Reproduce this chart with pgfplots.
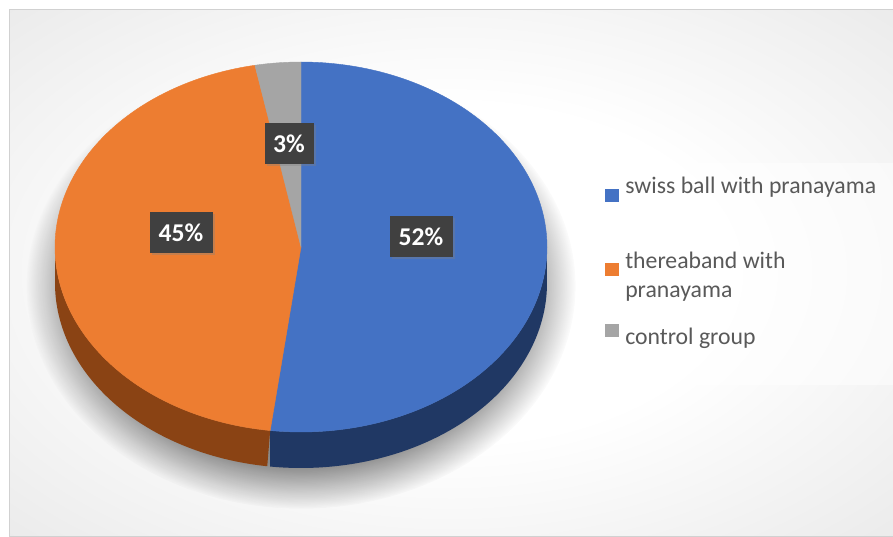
\documentclass[border=0pt]{standalone}
\usepackage{fontspec}
\setmainfont{Carlito}
\usepackage{pgfplots}
\pgfplotsset{compat=1.18}
\usepackage{pgfplotstable}
\usetikzlibrary{fadings,shadows}
\definecolor{cblue}{HTML}{4472C4}
\definecolor{corange}{HTML}{ED7D31}
\definecolor{cgray}{HTML}{A5A5A5}
\definecolor{dblue}{HTML}{203864}
\definecolor{dorange}{HTML}{8A4314}
\definecolor{legtext}{HTML}{595959}
\definecolor{labfill}{HTML}{404040}
\pgfdeclareradialshading{bgshade}{\pgfpoint{0bp}{0bp}}{color(0bp)=(white); color(16bp)=(white); color(71bp)=(black!22)}

\pgfplotstableread{
label value
swiss 52
thera 45
control 3
}\piedata

\begin{document}%
\begin{tikzpicture}
\pgfplotstablegetelem{0}{value}\of\piedata \let\va\pgfplotsretval
\pgfplotstablegetelem{1}{value}\of\piedata \let\vb\pgfplotsretval
\pgfplotstablegetelem{2}{value}\of\piedata \let\vc\pgfplotsretval
\pgfmathsetmacro{\aA}{90}
\pgfmathsetmacro{\aB}{90-3.6*\va}
\pgfmathsetmacro{\aC}{\aB-3.6*\vb}
\pgfmathsetmacro{\aD}{\aC-3.6*\vc}
\begin{scope}[x=0.75pt,y=-0.75pt,yshift=402pt]
  \fill[white] (0,0) rectangle (893,536);
  \shade[shading=bgshade, draw=black!18] (9.5,9.5) rectangle (893,536);
  % shadow under the pie
  \fill[black, opacity=0.45, path fading=circle with fuzzy edge 20 percent] (301,286) ellipse [x radius=206pt, y radius=167pt];
  % legend box
  \fill[white, opacity=0.5] (592,163) rectangle (893,385);
\end{scope}
\begin{axis}[at={(0,0)}, anchor=origin,
  width=669.75pt, height=402pt, scale only axis,
  xmin=0, xmax=893, ymin=0, ymax=536,
  hide axis, clip=false,
  legend style={at={(axis cs:605,360)}, anchor=north west, draw=none, fill=none,
    inner sep=0pt, row sep=17pt, column sep=4.5pt,
    font=\fontsize{17.8}{21.75}\selectfont, text=legtext,
    nodes={inner sep=0pt, text height=13pt}},
  legend cell align=left,
  legend image code/.code={\fill[#1, draw=none] (0pt,0pt) rectangle (10.5pt,9.75pt);},
]
% sides (visible front part)
\addplot[forget plot, fill=dblue, draw=none, variable=\t, domain=0:2, samples=241]
  ({301+246*cos(ifthenelse(\t<=1, \aB+(0-\aB)*\t, 0-(0-\aB)*(\t-1)))},
   {289+185*sin(ifthenelse(\t<=1, \aB+(0-\aB)*\t, 0-(0-\aB)*(\t-1))) - ifthenelse(\t<=1,0,36)});
\addplot[forget plot, fill=dorange, draw=none, variable=\t, domain=0:2, samples=241]
  ({301+246*cos(ifthenelse(\t<=1, -180+(\aB+180)*\t, \aB-(\aB+180)*(\t-1)))},
   {289+185*sin(ifthenelse(\t<=1, -180+(\aB+180)*\t, \aB-(\aB+180)*(\t-1))) - ifthenelse(\t<=1,0,36)});
% top faces
\addplot[forget plot, fill=cblue, draw=cblue, line width=0.3pt, variable=\t, domain=\aB:\aA, samples=150]
  ({301+246*cos(\t)},{289+185*sin(\t)}) -- (axis cs:301,289) -- cycle;
\addplot[forget plot, fill=corange, draw=corange, line width=0.3pt, variable=\t, domain=\aC:\aB, samples=150]
  ({301+246*cos(\t)},{289+185*sin(\t)}) -- (axis cs:301,289) -- cycle;
\addplot[forget plot, fill=cgray, draw=cgray, line width=0.3pt, variable=\t, domain=\aD:\aC, samples=20]
  ({301+246*cos(\t)},{289+185*sin(\t)}) -- (axis cs:301,289) -- cycle;
% labels
\tikzset{lab/.style={fill=labfill, text=white, font=\bfseries\fontsize{19.2}{19.2}\selectfont,
  inner sep=0pt, minimum height=30.75pt, drop shadow={shadow xshift=1.5pt, shadow yshift=-1.5pt, opacity=0.35}}}
\node[lab, minimum width=47.25pt] at (axis cs:421,299) {\va\%};
\node[lab, minimum width=47.25pt] at (axis cs:181,303) {\vb\%};
\node[lab, minimum width=36.75pt] at (axis cs:289,392) {\vc\%};
% legend
\addlegendimage{fill=cblue}
\addlegendentry[text depth=26.25pt]{swiss ball with pranayama}
\addlegendimage{fill=corange}
\addlegendentry[text depth=24.75pt]{\vtop{\hbox{thereaband with}\hbox{pranayama}}}
\addlegendimage{fill=cgray}
\addlegendentry{control group}
\end{axis}
\pgfresetboundingbox
\path (0,0) rectangle (669.75pt,402pt);
\end{tikzpicture}%
\end{document}
